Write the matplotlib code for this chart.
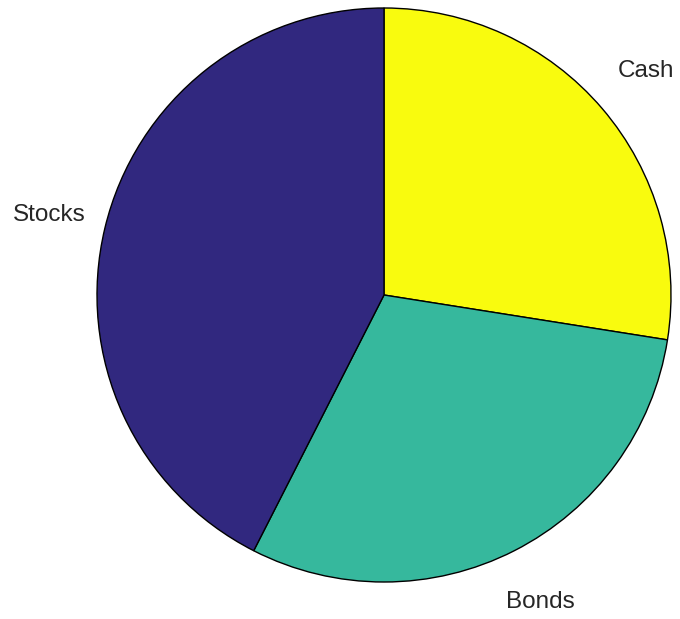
import matplotlib
matplotlib.use("Agg")
import matplotlib.pyplot as plt

labels = ["Cash", "Bonds", "Stocks"]
values = [11, 12, 17]
colors = ["#F9FB0E", "#36B89D", "#31287F"]

fig = plt.figure(figsize=(6.8, 6.19), dpi=100)
ax = fig.add_axes([0, 0, 1, 1])
ax.set_xlim(0, 680)
ax.set_ylim(0, 619)
ax.set_aspect("equal")
ax.axis("off")

wedges, texts = ax.pie(values, labels=labels, colors=colors, startangle=90,
                       counterclock=False, center=(384, 324), radius=287,
                       labeldistance=1.2, frame=True,
                       wedgeprops=dict(edgecolor="black", linewidth=1.0),
                       textprops=dict(fontsize=17.5, color="#262626",
                                      family="Liberation Sans"))
ax.set_xlim(0, 680)
ax.set_ylim(0, 619)
ax.axis("off")
for t in texts:
    t.set_ha("center")
    t.set_va("center")

fig.savefig("out.png", dpi=100, facecolor="white")
